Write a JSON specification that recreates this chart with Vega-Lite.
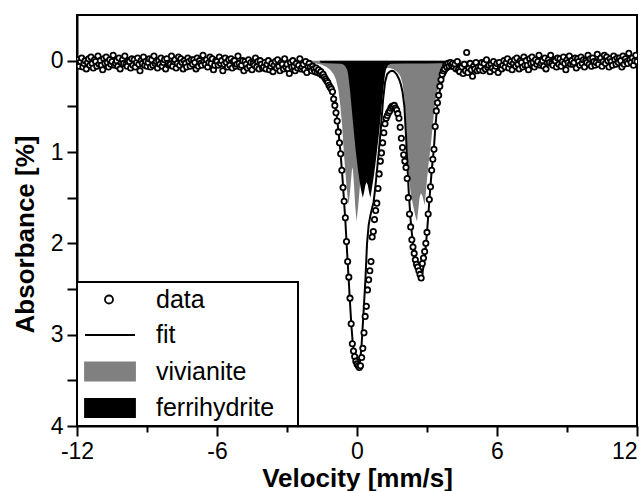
{
"$schema": "https://vega.github.io/schema/vega-lite/v6.json",
"width": 560, "height": 411,
"autosize": {"type": "none"},
"padding": {"left": 77, "top": 15, "right": 5, "bottom": 65},
"background": "white",
"config": {
 "view": {"stroke": "black", "strokeWidth": 2},
 "axis": {"grid": false, "domainColor": "black", "domainWidth": 2, "tickColor": "black", "tickWidth": 2, "labelColor": "black", "titleColor": "black", "labelFont": "Liberation Sans", "titleFont": "Liberation Sans", "labelFontSize": 23, "titleFontSize": 26, "titleFontWeight": "bold", "labelOverlap": false, "labelFlush": false}
},
"datasets": {
"pts": [
{"v":-12,"a":0.04},{"v":-11.95,"a":-0.01},{"v":-11.9,"a":0.06},{"v":-11.85,"a":0.01},{"v":-11.8,"a":-0.03},{"v":-11.75,"a":0.07},{"v":-11.7,"a":0.03},{"v":-11.65,"a":0},{"v":-11.6,"a":0.09},{"v":-11.55,"a":0.02},{"v":-11.5,"a":-0.02},{"v":-11.45,"a":0.05},{"v":-11.4,"a":-0.04},{"v":-11.35,"a":0.03},{"v":-11.3,"a":0.08},{"v":-11.25,"a":-0.01},{"v":-11.2,"a":0.01},{"v":-11.15,"a":0.06},{"v":-11.1,"a":-0.05},{"v":-11.05,"a":0.04},
{"v":-11,"a":0},{"v":-10.95,"a":0.05},{"v":-10.9,"a":0.1},{"v":-10.85,"a":-0.02},{"v":-10.8,"a":0.03},{"v":-10.75,"a":-0.04},{"v":-10.7,"a":0.02},{"v":-10.65,"a":0.07},{"v":-10.6,"a":-0.01},{"v":-10.55,"a":0.04},{"v":-10.5,"a":0.01},{"v":-10.45,"a":-0.06},{"v":-10.4,"a":0.05},{"v":-10.35,"a":0.03},{"v":-10.3,"a":0},{"v":-10.25,"a":0.06},{"v":-10.2,"a":-0.03},{"v":-10.15,"a":0.09},{"v":-10.1,"a":0.02},{"v":-10.05,"a":-0.01},
{"v":-10,"a":0.03},{"v":-9.95,"a":-0.05},{"v":-9.9,"a":0.04},{"v":-9.85,"a":0.06},{"v":-9.8,"a":0},{"v":-9.75,"a":0.01},{"v":-9.7,"a":0.08},{"v":-9.65,"a":-0.02},{"v":-9.6,"a":0.05},{"v":-9.55,"a":-0.01},{"v":-9.5,"a":0.07},{"v":-9.45,"a":0.02},{"v":-9.4,"a":-0.03},{"v":-9.35,"a":0.04},{"v":-9.3,"a":0.11},{"v":-9.25,"a":0},{"v":-9.2,"a":0.03},{"v":-9.15,"a":-0.04},{"v":-9.1,"a":0.05},{"v":-9.05,"a":0.01},
{"v":-9,"a":0.06},{"v":-8.95,"a":0.02},{"v":-8.9,"a":-0.02},{"v":-8.85,"a":0.07},{"v":-8.8,"a":-0.01},{"v":-8.75,"a":0.05},{"v":-8.7,"a":-0.05},{"v":-8.65,"a":0.03},{"v":-8.6,"a":0.01},{"v":-8.55,"a":0.08},{"v":-8.5,"a":0},{"v":-8.45,"a":0.04},{"v":-8.4,"a":-0.03},{"v":-8.35,"a":0.06},{"v":-8.3,"a":0.02},{"v":-8.25,"a":-0.01},{"v":-8.2,"a":0.09},{"v":-8.15,"a":-0.02},{"v":-8.1,"a":0.03},{"v":-8.05,"a":0.05},
{"v":-8,"a":0.04},{"v":-7.95,"a":-0.05},{"v":-7.9,"a":0.06},{"v":-7.85,"a":0.01},{"v":-7.8,"a":-0.01},{"v":-7.75,"a":0.08},{"v":-7.7,"a":0.03},{"v":-7.65,"a":-0.04},{"v":-7.6,"a":0.05},{"v":-7.55,"a":-0.02},{"v":-7.5,"a":0.02},{"v":-7.45,"a":0.09},{"v":-7.4,"a":0},{"v":-7.35,"a":0.03},{"v":-7.3,"a":0.07},{"v":-7.25,"a":-0.03},{"v":-7.2,"a":0.01},{"v":-7.15,"a":0.06},{"v":-7.1,"a":-0.01},{"v":-7.05,"a":0.04},
{"v":-7,"a":-0.01},{"v":-6.95,"a":0.02},{"v":-6.9,"a":0.09},{"v":-6.85,"a":-0.03},{"v":-6.8,"a":0.06},{"v":-6.75,"a":0},{"v":-6.7,"a":0.03},{"v":-6.65,"a":0.05},{"v":-6.6,"a":-0.06},{"v":-6.55,"a":0.01},{"v":-6.5,"a":0.04},{"v":-6.45,"a":-0.01},{"v":-6.4,"a":0.07},{"v":-6.35,"a":0.02},{"v":-6.3,"a":-0.04},{"v":-6.25,"a":0.03},{"v":-6.2,"a":-0.02},{"v":-6.15,"a":0.1},{"v":-6.1,"a":0.05},{"v":-6.05,"a":0},
{"v":-6,"a":0.01},{"v":-5.95,"a":0.05},{"v":-5.9,"a":-0.04},{"v":-5.85,"a":0.03},{"v":-5.8,"a":0},{"v":-5.75,"a":0.11},{"v":-5.7,"a":0.04},{"v":-5.65,"a":-0.03},{"v":-5.6,"a":0.02},{"v":-5.55,"a":0.07},{"v":-5.5,"a":-0.01},{"v":-5.45,"a":0.05},{"v":-5.4,"a":-0.02},{"v":-5.35,"a":0.08},{"v":-5.3,"a":0.01},{"v":-5.25,"a":0},{"v":-5.2,"a":0.06},{"v":-5.15,"a":0.04},{"v":-5.1,"a":-0.05},{"v":-5.05,"a":0.03},
{"v":-5,"a":0.07},{"v":-4.95,"a":0.05},{"v":-4.9,"a":0},{"v":-4.85,"a":0.11},{"v":-4.8,"a":0.01},{"v":-4.75,"a":0.04},{"v":-4.7,"a":0.08},{"v":-4.65,"a":-0.01},{"v":-4.6,"a":0.06},{"v":-4.55,"a":0.02},{"v":-4.5,"a":0.1},{"v":-4.45,"a":0.03},{"v":-4.4,"a":0.05},{"v":-4.35,"a":-0.03},{"v":-4.3,"a":0.07},{"v":-4.25,"a":0.01},{"v":-4.2,"a":0.09},{"v":-4.15,"a":0},{"v":-4.1,"a":0.04},{"v":-4.05,"a":0.08},
{"v":-4,"a":0.07},{"v":-3.95,"a":0.02},{"v":-3.9,"a":0.09},{"v":-3.85,"a":0.04},{"v":-3.8,"a":0},{"v":-3.75,"a":0.1},{"v":-3.7,"a":0.06},{"v":-3.65,"a":0.03},{"v":-3.6,"a":0.12},{"v":-3.55,"a":0.05},{"v":-3.5,"a":0.01},{"v":-3.45,"a":0.08},{"v":-3.4,"a":-0.01},{"v":-3.35,"a":0.06},{"v":-3.3,"a":0.11},{"v":-3.25,"a":0.02},{"v":-3.2,"a":0.04},{"v":-3.15,"a":0.09},{"v":-3.1,"a":-0.02},{"v":-3.05,"a":0.07},
{"v":-3,"a":0.04},{"v":-2.95,"a":0.09},{"v":-2.9,"a":0.14},{"v":-2.85,"a":0.02},{"v":-2.8,"a":0.07},{"v":-2.75,"a":0},{"v":-2.7,"a":0.06},{"v":-2.65,"a":0.11},{"v":-2.6,"a":0.03},{"v":-2.55,"a":0.08},{"v":-2.5,"a":0.05},{"v":-2.45,"a":-0.02},{"v":-2.4,"a":0.09},{"v":-2.35,"a":0.07},{"v":-2.3,"a":0.04},{"v":-2.25,"a":0.1},{"v":-2.2,"a":0.01},{"v":-2.15,"a":0.13},{"v":-2.1,"a":0.06},{"v":-2.05,"a":0.03},
{"v":-2,"a":0.07},{"v":-1.95,"a":0.11},{"v":-1.9,"a":0.06},{"v":-1.85,"a":0.09},
{"v":-1.8,"a":0.12},{"v":-1.75,"a":0.08},{"v":-1.7,"a":0.13},{"v":-1.65,"a":0.1},{"v":-1.6,"a":0.14},{"v":-1.55,"a":0.12},{"v":-1.5,"a":0.16},{"v":-1.45,"a":0.15},{"v":-1.4,"a":0.18},{"v":-1.35,"a":0.2},{"v":-1.3,"a":0.22},{"v":-1.25,"a":0.24},{"v":-1.2,"a":0.27},{"v":-1.15,"a":0.29},{"v":-1.1,"a":0.31},{"v":-1.05,"a":0.34},{"v":-1,"a":0.42},{"v":-0.95,"a":0.49},{"v":-0.9,"a":0.57},{"v":-0.85,"a":0.66},{"v":-0.8,"a":0.78},{"v":-0.75,"a":0.9},{"v":-0.7,"a":1.02},{"v":-0.65,"a":1.2},{"v":-0.6,"a":1.39},{"v":-0.55,"a":1.54},{"v":-0.5,"a":1.72},{"v":-0.45,"a":1.98},{"v":-0.4,"a":2.2},{"v":-0.35,"a":2.37},{"v":-0.3,"a":2.6},{"v":-0.25,"a":2.88},{"v":-0.2,"a":3.1},{"v":-0.15,"a":3.18},{"v":-0.1,"a":3.24},{"v":-0.05,"a":3.29},{"v":0,"a":3.32},{"v":0.05,"a":3.34},{"v":0.1,"a":3.36},{"v":0.15,"a":3.34},{"v":0.2,"a":3.25},{"v":0.25,"a":3.15},{"v":0.3,"a":2.98},{"v":0.35,"a":2.8},{"v":0.4,"a":2.69},{"v":0.45,"a":2.51},{"v":0.5,"a":2.4},{"v":0.55,"a":2.3},{"v":0.6,"a":2.2},{"v":0.65,"a":1.93},{"v":0.7,"a":1.87},{"v":0.75,"a":1.74},{"v":0.8,"a":1.64},{"v":0.85,"a":1.56},{"v":0.9,"a":1.4},{"v":0.95,"a":1.24},{"v":1,"a":1.1},{"v":1.05,"a":1.01},{"v":1.1,"a":0.9},{"v":1.15,"a":0.79},{"v":1.2,"a":0.69},{"v":1.25,"a":0.63},{"v":1.3,"a":0.6},{"v":1.35,"a":0.57},{"v":1.4,"a":0.55},{"v":1.45,"a":0.52},{"v":1.5,"a":0.5},{"v":1.55,"a":0.51},{"v":1.6,"a":0.49},{"v":1.65,"a":0.52},{"v":1.7,"a":0.54},{"v":1.75,"a":0.58},{"v":1.8,"a":0.63},{"v":1.85,"a":0.73},{"v":1.9,"a":0.85},{"v":1.95,"a":0.95},{"v":2,"a":1.03},{"v":2.05,"a":1.1},{"v":2.1,"a":1.17},{"v":2.15,"a":1.29},{"v":2.2,"a":1.5},{"v":2.25,"a":1.68},{"v":2.3,"a":1.82},{"v":2.35,"a":1.96},{"v":2.4,"a":2.04},{"v":2.45,"a":2.11},{"v":2.5,"a":2.18},{"v":2.55,"a":2.23},{"v":2.6,"a":2.26},{"v":2.65,"a":2.3},{"v":2.7,"a":2.34},{"v":2.75,"a":2.38},{"v":2.8,"a":2.22},{"v":2.85,"a":2.16},{"v":2.9,"a":2.09},{"v":2.95,"a":2},{"v":3,"a":1.88},{"v":3.05,"a":1.68},{"v":3.1,"a":1.52},{"v":3.15,"a":1.38},{"v":3.2,"a":1.2},{"v":3.25,"a":1.08},{"v":3.3,"a":0.97},{"v":3.35,"a":0.72},{"v":3.4,"a":0.55},{"v":3.45,"a":0.46},{"v":3.5,"a":0.38},{"v":3.55,"a":0.28},{"v":3.6,"a":0.21},{"v":3.65,"a":0.15},{"v":3.7,"a":0.11},{"v":3.75,"a":0.09},{"v":3.8,"a":0.05},{"v":3.85,"a":0.07},{"v":3.9,"a":0.03},{"v":3.95,"a":0.06},{"v":4,"a":0.02},{"v":4.05,"a":0.05},{"v":4.1,"a":0.03},{"v":4.15,"a":0.07},{"v":4.2,"a":0.04},
{"v":4.25,"a":0.09},{"v":4.3,"a":0.01},{"v":4.35,"a":0.1},{"v":4.4,"a":0.12},{"v":4.45,"a":0.06},{"v":4.5,"a":0.07},{"v":4.55,"a":0.14},{"v":4.6,"a":0.04},{"v":4.65,"a":0.11},{"v":4.7,"a":-0.09},{"v":4.75,"a":0.13},{"v":4.8,"a":0.08},{"v":4.85,"a":0.03},{"v":4.9,"a":0.1},{"v":4.95,"a":0.17},{"v":5,"a":0.06},{"v":5.05,"a":0.09},{"v":5.1,"a":0.02},{"v":5.15,"a":0.11},{"v":5.2,"a":0.07},
{"v":5.25,"a":0.1},{"v":5.3,"a":0.06},{"v":5.35,"a":0.02},{"v":5.4,"a":0.11},{"v":5.45,"a":0.03},{"v":5.5,"a":0.09},{"v":5.55,"a":-0.01},{"v":5.6,"a":0.07},{"v":5.65,"a":0.05},{"v":5.7,"a":0.12},{"v":5.75,"a":0.04},{"v":5.8,"a":0.08},{"v":5.85,"a":0.01},{"v":5.9,"a":0.1},{"v":5.95,"a":0.06},{"v":6,"a":0.03},{"v":6.05,"a":0.13},{"v":6.1,"a":0.02},{"v":6.15,"a":0.07},{"v":6.2,"a":0.09},
{"v":6.25,"a":0.05},{"v":6.3,"a":0},{"v":6.35,"a":0.07},{"v":6.4,"a":0.02},{"v":6.45,"a":-0.02},{"v":6.5,"a":0.08},{"v":6.55,"a":0.04},{"v":6.6,"a":0.01},{"v":6.65,"a":0.1},{"v":6.7,"a":0.03},{"v":6.75,"a":-0.01},{"v":6.8,"a":0.06},{"v":6.85,"a":-0.03},{"v":6.9,"a":0.04},{"v":6.95,"a":0.09},{"v":7,"a":0},{"v":7.05,"a":0.02},{"v":7.1,"a":0.07},{"v":7.15,"a":-0.04},{"v":7.2,"a":0.05},
{"v":7.25,"a":0},{"v":7.3,"a":0.05},{"v":7.35,"a":0.1},{"v":7.4,"a":-0.02},{"v":7.45,"a":0.03},{"v":7.5,"a":-0.04},{"v":7.55,"a":0.02},{"v":7.6,"a":0.07},{"v":7.65,"a":-0.01},{"v":7.7,"a":0.04},{"v":7.75,"a":0.01},{"v":7.8,"a":-0.06},{"v":7.85,"a":0.05},{"v":7.9,"a":0.03},{"v":7.95,"a":0},{"v":8,"a":0.06},{"v":8.05,"a":-0.03},{"v":8.1,"a":0.09},{"v":8.15,"a":0.02},{"v":8.2,"a":-0.01},
{"v":8.25,"a":0.02},{"v":8.3,"a":-0.06},{"v":8.35,"a":0.03},{"v":8.4,"a":0.05},{"v":8.45,"a":-0.01},{"v":8.5,"a":0},{"v":8.55,"a":0.07},{"v":8.6,"a":-0.03},{"v":8.65,"a":0.04},{"v":8.7,"a":-0.02},{"v":8.75,"a":0.06},{"v":8.8,"a":0.01},{"v":8.85,"a":-0.04},{"v":8.9,"a":0.03},{"v":8.95,"a":0.1},{"v":9,"a":-0.01},{"v":9.05,"a":0.02},{"v":9.1,"a":-0.05},{"v":9.15,"a":0.04},{"v":9.2,"a":0},
{"v":9.25,"a":0.04},{"v":9.3,"a":0.02},{"v":9.35,"a":-0.03},{"v":9.4,"a":0.08},{"v":9.45,"a":-0.02},{"v":9.5,"a":0.01},{"v":9.55,"a":0.05},{"v":9.6,"a":-0.04},{"v":9.65,"a":0.03},{"v":9.7,"a":-0.01},{"v":9.75,"a":0.07},{"v":9.8,"a":0},{"v":9.85,"a":0.02},{"v":9.9,"a":-0.06},{"v":9.95,"a":0.04},{"v":10,"a":-0.02},{"v":10.05,"a":0.06},{"v":10.1,"a":-0.03},{"v":10.15,"a":0.01},{"v":10.2,"a":0.05},
{"v":10.25,"a":0.02},{"v":10.3,"a":-0.07},{"v":10.35,"a":0.04},{"v":10.4,"a":-0.01},{"v":10.45,"a":-0.03},{"v":10.5,"a":0.06},{"v":10.55,"a":0.01},{"v":10.6,"a":-0.06},{"v":10.65,"a":0.03},{"v":10.7,"a":-0.04},{"v":10.75,"a":0},{"v":10.8,"a":0.07},{"v":10.85,"a":-0.02},{"v":10.9,"a":0.01},{"v":10.95,"a":0.05},{"v":11,"a":-0.05},{"v":11.05,"a":-0.01},{"v":11.1,"a":0.04},{"v":11.15,"a":-0.03},{"v":11.2,"a":0.02},
{"v":11.25,"a":-0.03},{"v":11.3,"a":0},{"v":11.35,"a":0.07},{"v":11.4,"a":-0.05},{"v":11.45,"a":0.04},{"v":11.5,"a":-0.02},{"v":11.55,"a":0.01},{"v":11.6,"a":0.03},{"v":11.65,"a":-0.08},{"v":11.7,"a":-0.01},{"v":11.75,"a":0.02},{"v":11.8,"a":-0.03},{"v":11.85,"a":0.05},{"v":11.9,"a":0},{"v":11.95,"a":-0.06},{"v":12,"a":0.01}
],
"fit": [
{"v":-12,"a":0.01},{"v":-8,"a":0.012},{"v":-6,"a":0.015},{"v":-5,"a":0.02},{"v":-4,"a":0.03},{"v":-3,"a":0.045},{"v":-2.5,"a":0.055},{"v":-2,"a":0.07},{"v":-1.75,"a":0.085},{"v":-1.5,"a":0.12},{"v":-1.36,"a":0.17},{"v":-1.23,"a":0.23},{"v":-1.1,"a":0.31},{"v":-1,"a":0.4},{"v":-0.93,"a":0.5},{"v":-0.86,"a":0.62},{"v":-0.8,"a":0.76},{"v":-0.72,"a":0.97},{"v":-0.64,"a":1.22},{"v":-0.57,"a":1.48},{"v":-0.5,"a":1.75},{"v":-0.43,"a":2.07},{"v":-0.36,"a":2.38},{"v":-0.3,"a":2.65},{"v":-0.24,"a":2.9},{"v":-0.18,"a":3.1},{"v":-0.12,"a":3.22},{"v":-0.05,"a":3.3},{"v":0.02,"a":3.34},{"v":0.08,"a":3.35},{"v":0.14,"a":3.28},{"v":0.2,"a":3.1},{"v":0.28,"a":2.76},{"v":0.36,"a":2.4},{"v":0.43,"a":2},{"v":0.5,"a":1.8},{"v":0.57,"a":1.7},{"v":0.64,"a":1.62},{"v":0.71,"a":1.55},{"v":0.78,"a":1.4},{"v":0.85,"a":1.22},{"v":0.94,"a":0.98},{"v":1.02,"a":0.75},{"v":1.12,"a":0.42},{"v":1.2,"a":0.24},{"v":1.29,"a":0.15},{"v":1.4,"a":0.12},{"v":1.5,"a":0.11},{"v":1.57,"a":0.115},{"v":1.7,"a":0.15},{"v":1.8,"a":0.2},{"v":1.88,"a":0.26},{"v":1.95,"a":0.34},{"v":2.03,"a":0.5},{"v":2.1,"a":0.82},{"v":2.16,"a":1.15},{"v":2.22,"a":1.45},{"v":2.3,"a":1.75},{"v":2.4,"a":2.02},{"v":2.5,"a":2.2},{"v":2.6,"a":2.31},{"v":2.68,"a":2.36},{"v":2.74,"a":2.37},{"v":2.8,"a":2.33},{"v":2.86,"a":2.24},{"v":2.93,"a":2.08},{"v":3,"a":1.88},{"v":3.07,"a":1.64},{"v":3.14,"a":1.4},{"v":3.21,"a":1.18},{"v":3.29,"a":0.98},{"v":3.36,"a":0.72},{"v":3.43,"a":0.52},{"v":3.5,"a":0.4},{"v":3.57,"a":0.3},{"v":3.64,"a":0.23},{"v":3.71,"a":0.18},{"v":3.86,"a":0.11},{"v":4.07,"a":0.07},{"v":4.5,"a":0.045},{"v":5,"a":0.03},{"v":6,"a":0.02},{"v":8,"a":0.012},{"v":12,"a":0.01}
],
"viv": [
{"v":-4,"a":0},{"v":-3,"a":0.01},{"v":-2.5,"a":0.015},{"v":-2,"a":0.022},{"v":-1.75,"a":0.03},{"v":-1.5,"a":0.045},{"v":-1.3,"a":0.07},{"v":-1.15,"a":0.1},{"v":-1,"a":0.15},{"v":-0.9,"a":0.21},{"v":-0.8,"a":0.32},{"v":-0.72,"a":0.48},{"v":-0.64,"a":0.7},{"v":-0.57,"a":0.98},{"v":-0.5,"a":1.22},{"v":-0.44,"a":1.4},{"v":-0.4,"a":1.5},{"v":-0.36,"a":1.57},{"v":-0.32,"a":1.49},{"v":-0.27,"a":1.35},{"v":-0.22,"a":1.2},{"v":-0.18,"a":1.17},{"v":-0.13,"a":1.35},{"v":-0.08,"a":1.58},{"v":-0.02,"a":1.76},{"v":0.04,"a":1.62},{"v":0.1,"a":1.45},{"v":0.16,"a":1.25},{"v":0.22,"a":1.05},{"v":0.3,"a":0.78},{"v":0.4,"a":0.52},{"v":0.5,"a":0.36},{"v":0.6,"a":0.26},{"v":0.7,"a":0.19},{"v":0.8,"a":0.15},{"v":0.9,"a":0.12},{"v":1,"a":0.1},{"v":1.2,"a":0.08},{"v":1.4,"a":0.08},{"v":1.57,"a":0.095},{"v":1.75,"a":0.13},{"v":1.86,"a":0.17},{"v":1.95,"a":0.25},{"v":2.03,"a":0.4},{"v":2.1,"a":0.7},{"v":2.16,"a":1},{"v":2.22,"a":1.25},{"v":2.3,"a":1.45},{"v":2.4,"a":1.58},{"v":2.5,"a":1.7},{"v":2.57,"a":1.76},{"v":2.63,"a":1.62},{"v":2.68,"a":1.5},{"v":2.74,"a":1.45},{"v":2.8,"a":1.48},{"v":2.86,"a":1.54},{"v":2.9,"a":1.58},{"v":2.95,"a":1.45},{"v":3.02,"a":1.25},{"v":3.08,"a":1.1},{"v":3.14,"a":0.98},{"v":3.22,"a":0.78},{"v":3.3,"a":0.57},{"v":3.36,"a":0.43},{"v":3.45,"a":0.33},{"v":3.55,"a":0.25},{"v":3.71,"a":0.17},{"v":3.85,"a":0.09},{"v":4.07,"a":0.03},{"v":4.5,"a":0.015},{"v":5,"a":0.008},{"v":6,"a":0}
],
"fer": [
{"v":-1.6,"a":0},{"v":-1.55,"a":0.025},{"v":-1,"a":0.03},{"v":-0.7,"a":0.035},{"v":-0.6,"a":0.04},{"v":-0.5,"a":0.06},{"v":-0.42,"a":0.1},{"v":-0.38,"a":0.15},{"v":-0.3,"a":0.32},{"v":-0.2,"a":0.6},{"v":-0.12,"a":0.82},{"v":-0.05,"a":1},{"v":0.02,"a":1.15},{"v":0.1,"a":1.3},{"v":0.17,"a":1.41},{"v":0.25,"a":1.5},{"v":0.31,"a":1.43},{"v":0.36,"a":1.36},{"v":0.41,"a":1.33},{"v":0.46,"a":1.36},{"v":0.51,"a":1.43},{"v":0.57,"a":1.5},{"v":0.63,"a":1.41},{"v":0.7,"a":1.3},{"v":0.78,"a":1.15},{"v":0.85,"a":1},{"v":0.94,"a":0.8},{"v":1.02,"a":0.6},{"v":1.12,"a":0.33},{"v":1.2,"a":0.15},{"v":1.24,"a":0.1},{"v":1.32,"a":0.05},{"v":1.45,"a":0.035},{"v":2,"a":0.03},{"v":3,"a":0.03},{"v":4.05,"a":0.025},{"v":4.1,"a":0}
]
},
"encoding": {
 "x": {"field": "v", "type": "quantitative", "scale": {"domain": [-12, 12], "nice": false, "zero": false},
  "axis": {"title": "Velocity [mm/s]", "values": [-12,-9,-6,-3,0,3,6,9,12],
   "labelExpr": "datum.value % 6 === 0 ? (datum.value < 0 ? '-' + abs(datum.value) : '' + datum.value) : ''",
   "labelAlign": {"condition": {"test": "datum.value === 12", "value": "right"}, "value": "center"},
   "tickSize": {"condition": {"test": "datum.value % 6 !== 0", "value": 6}, "value": 10},
   "labelPadding": 4, "titlePadding": 2}},
 "y": {"field": "a", "type": "quantitative", "scale": {"domain": [-0.5, 4], "reverse": true, "nice": false, "zero": false},
  "axis": {"title": "Absorbance [%]", "values": [0,0.5,1,1.5,2,2.5,3,3.5,4],
   "labelExpr": "datum.value % 1 === 0 ? '' + datum.value : ''",
   "tickSize": 10, "labelPadding": 4, "titlePadding": 12, "titleY": 219}}
},
"layer": [
 {"data": {"name": "viv"}, "mark": {"type": "area", "clip": true},
  "encoding": {"y2": {"datum": 0},
   "color": {"datum": "vivianite", "type": "nominal",
    "scale": {"domain": ["data","fit","vivianite","ferrihydrite"], "range": ["#ffffff","#000000","#808080","#000000"]},
    "legend": {"title": null, "orient": "bottom-left", "offset": 0, "padding": 5,
     "symbolSize": 400, "labelFontSize": 25, "labelFont": "Liberation Sans", "labelColor": "black",
     "labelOffset": 49, "rowPadding": 9.5, "labelExpr": "datum.label + '\u2800'",
     "encode": {
      "legend": {"update": {"stroke": {"value": "black"}, "strokeWidth": {"value": 2}, "fill": {"value": "white"}}},
      "symbols": {"update": {
       "shape": {"signal": "datum.value === 'data' ? 'M1.85,0A0.4,0.4 0 1,1 1.05,0A0.4,0.4 0 1,1 1.85,0Z' : datum.value === 'fit' ? 'M-0.95,0H4.05' : 'M-0.95,-0.9H4.05V0.9H-0.95Z'"},
       "fill": {"signal": "datum.value === 'vivianite' ? '#808080' : datum.value === 'ferrihydrite' ? '#000000' : '#ffffff'"},
       "stroke": {"signal": "datum.value === 'vivianite' ? '#808080' : '#000000'"},
       "strokeWidth": {"value": 1.8}, "opacity": {"value": 1}, "fillOpacity": {"value": 1}, "strokeOpacity": {"value": 1}
      }}
     }}}}},
 {"data": {"name": "fer"}, "mark": {"type": "area", "color": "#000000", "clip": true},
  "encoding": {"y2": {"datum": 0}}},
 {"data": {"name": "fit"}, "mark": {"type": "line", "color": "#000000", "strokeWidth": 2, "clip": true},
  "encoding": {"order": {"field": "v", "type": "quantitative"}}},
 {"data": {"name": "pts"}, "mark": {"type": "point", "shape": "circle", "size": 28, "filled": true, "fill": "white", "stroke": "black", "strokeWidth": 1.8, "opacity": 1, "clip": true},
  "encoding": {}}
]
}
